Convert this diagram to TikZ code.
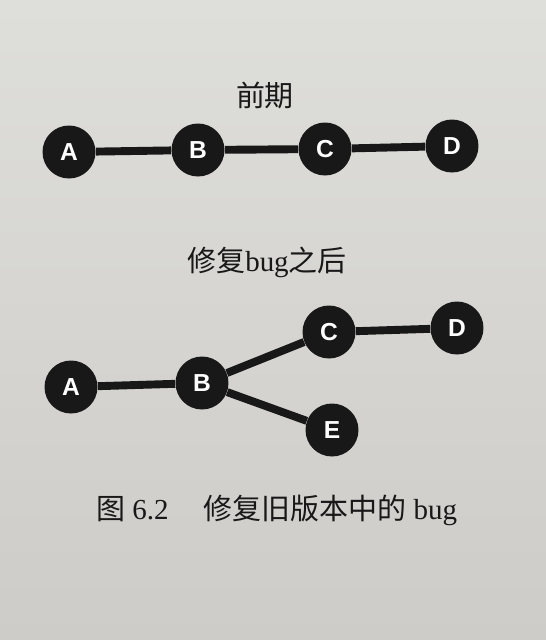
\documentclass[tikz,border=0pt]{standalone}
\usepackage{fontspec}
\setmainfont{Liberation Serif}
\setsansfont{Liberation Sans}
\newfontfamily\cjk{Noto Sans CJK SC}
\definecolor{paper}{RGB}{222,222,219}
\definecolor{paperlow}{RGB}{206,204,201}
\definecolor{ink}{RGB}{24,24,24}

\begin{document}
\begin{tikzpicture}[x=0.02cm, y=-0.02cm,
    commit/.style={circle, fill=ink, minimum size=1.06cm, inner sep=0pt, text=white, font=\sffamily\bfseries\fontsize{14}{16}\selectfont},
    link/.style={draw=ink, line width=4.5pt},
    heading/.style={text=ink, font=\fontsize{16.5}{18}\selectfont}]
        \shade[top color=paper, bottom color=paperlow] (0,0) rectangle (546,640);
        \useasboundingbox (0,0) rectangle (546,640);

        % before
        \node (before) [heading] at (265,95) {\cjk 前期};
        \node (a1) [commit] at (69,152) {A};
        \node (b1) [commit] at (198,150) {B};
        \node (c1) [commit] at (325,149) {C};
        \node (d1) [commit] at (452,146) {D};

        \draw[link] (a1) -- (b1);
        \draw[link] (b1) -- (c1);
        \draw[link] (c1) -- (d1);

        % after the fix
        \node (after) [heading] at (267,262) {{\cjk 修复}bug{\cjk 之后}};
        \node (a2) [commit] at (71,387) {A};
        \node (b2) [commit] at (202,383) {B};
        \node (c2) [commit] at (329,332) {C};
        \node (d2) [commit] at (457,328) {D};
        \node (e2) [commit] at (332,430) {E};

        \draw[link] (a2) -- (b2);
        \draw[link] (b2) -- (c2);
        \draw[link] (c2) -- (d2);
        \draw[link] (b2) -- (e2);

        % caption
        \node (caption) [heading, anchor=west] at (90,510) {{\cjk 图} 6.2\hspace{1.2em}{\cjk 修复旧版本中的} bug};
    \end{tikzpicture}
\end{document}
